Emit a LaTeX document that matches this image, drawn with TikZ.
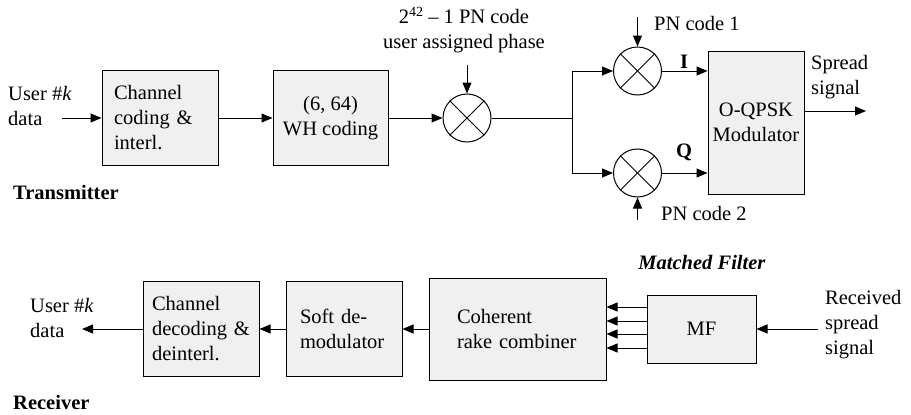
\documentclass[tikz,border=0pt]{standalone}
\usepackage{fontspec}
\setmainfont{Liberation Serif}
\usepackage{tikz}
\usetikzlibrary{arrows.meta,positioning,calc}

\begin{document}
\begin{tikzpicture}[x=1pt,y=-1pt,font=\fontsize{20.5}{25}\selectfont,
		blk/.style={draw,fill=gray!12,line width=1pt,inner sep=0pt},
		mixer/.style={draw,circle,line width=1pt,minimum size=48pt,inner sep=0pt},
		arr/.style={line width=1pt,-{Triangle[length=11pt,width=9pt]}},
		ln/.style={line width=1pt},
		txt/.style={align=left,inner sep=0pt}]
		\useasboundingbox (0,0) rectangle (911,415);
		% transmitter
		\node[blk,minimum width=116pt,minimum height=95pt,text width=92pt,align=left] (chcod) at (160,118) {Channel\\coding \&\\interl.};
		\node[blk,minimum width=115pt,minimum height=95pt,align=center] (wh) at (330.5,118) {(6, 64)\\WH coding};
		\node[mixer] (mul0) at (467,118) {};
		\node[mixer] (mulI) at (637.5,71) {};
		\node[mixer] (mulQ) at (637.5,173) {};
		\node[blk,minimum width=96pt,minimum height=143pt,align=center] (oqpsk) at (756,122.5) {O-QPSK\\Modulator};
		\coordinate (uin) at (62,118);
		\coordinate (split) at (572,118);
		\coordinate (pn0) at (467,65);
		\coordinate (pn1) at (637.5,17);
		\coordinate (pn2) at (637.5,220);
		\coordinate (sout) at (866,111);
		\foreach \m in {mul0,mulI,mulQ}{
			\draw[ln] (\m.45) -- (\m.225);
			\draw[ln] (\m.135) -- (\m.315);
		}
		\draw[arr] (uin) -- (chcod);
		\draw[arr] (chcod) -- (wh);
		\draw[arr] (wh) -- (mul0);
		\draw[ln] (mul0) -- (split);
		\draw[arr] (split) |- (mulI);
		\draw[arr] (split) |- (mulQ);
		\draw[arr] (mulI) -- (mulI -| oqpsk.west);
		\draw[arr] (mulQ) -- (mulQ -| oqpsk.west);
		\draw[arr] (oqpsk.east |- sout) -- (sout);
		\draw[arr] (pn0) -- (mul0);
		\draw[arr] (pn1) -- (mulI);
		\draw[arr] (pn2) -- (mulQ);
		\node[txt,anchor=west] (uinlbl) at (8,106) {User \#\textit{k}\\data};
		\node[txt,align=center] (pnlbl) at (464,30) {2\raisebox{7pt}{\fontsize{14}{14}\selectfont 42} – 1 PN code\\user assigned phase};
		\node[txt,anchor=west] (pn1lbl) at (654,23) {PN code 1};
		\node[txt,anchor=west] (pn2lbl) at (661,213) {PN code 2};
		\node[txt] (ilbl) at (684,62) {\textbf{I}};
		\node[txt] (qlbl) at (684,152) {\textbf{Q}};
		\node[txt,anchor=west] (soutlbl) at (811,77) {Spread\\signal};
		\node[txt,anchor=west] (txlbl) at (13,192) {\textbf{Transmitter}};
		% receiver
		\node[blk,minimum width=116pt,minimum height=95pt,text width=98pt,align=left] (chdec) at (201,329) {Channel\\decoding \&\\deinterl.};
		\node[blk,minimum width=116pt,minimum height=95pt,text width=88pt,align=left] (soft) at (344,329) {Soft de-\\modulator};
		\node[blk,minimum width=177pt,minimum height=102pt,text width=121pt,align=left] (rake) at (517.5,329) {Coherent\\rake combiner};
		\node[blk,minimum width=109pt,minimum height=68pt,align=center] (mf) at (701.5,329) {MF};
		\coordinate (rin) at (818,329);
		\coordinate (uout) at (82,329);
		\draw[arr] (rin) -- (mf);
		\foreach \yy in {307,321,334,348}
			\draw[arr] (mf.west |- 0,\yy) -- (rake.east |- 0,\yy);
		\draw[arr] (rake) -- (soft);
		\draw[arr] (soft) -- (chdec);
		\draw[arr] (chdec) -- (uout);
		\node[txt,anchor=west] (uoutlbl) at (30,318) {User \#\textit{k}\\data};
		\node[txt,anchor=west] (rinlbl) at (825,325) {Received\\spread\\signal};
		\node[txt] (mflbl) at (702,262) {\textbf{\textit{Matched Filter}}};
		\node[txt,anchor=west] (rxlbl) at (13,402) {\textbf{Receiver}};
\end{tikzpicture}
\end{document}
